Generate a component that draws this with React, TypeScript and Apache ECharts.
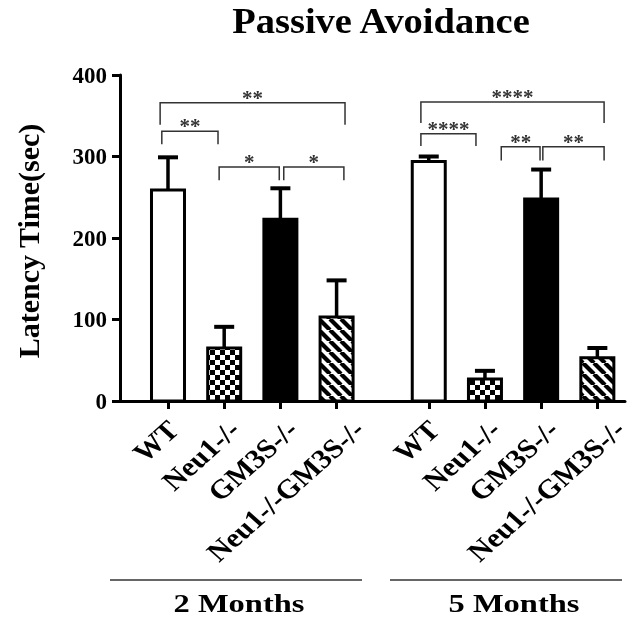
import React, { useEffect, useRef } from "react";
import * as echarts from "echarts";

// ---- data ----
const groups = ["2 Months", "5 Months"];
const genotypes = ["WT", "Neu1-/-", "GM3S-/-", "Neu1-/-GM3S-/-"];
const means2m = [259, 65, 223, 103];
const errs2m = [40, 26, 38, 45];
const means5m = [294, 27, 248, 53];
const errs5m = [6, 10, 36, 12];
const yTicks = [0, 100, 200, 300, 400];

// significance brackets (x in bar-position units, y in seconds)
const bracketFrom = [-0.14, -0.11, 0.91, 2.06, 4.5, 4.5, 5.93, 6.67];
const bracketTo = [3.15, 0.89, 1.98, 3.13, 7.76, 5.48, 6.62, 7.76];
const bracketY = [366, 331, 287, 287, 367, 328, 312, 312];
const bracketLegY = [339, 315, 271, 271, 341, 313, 295, 295];
const bracketStars = ["**", "**", "*", "*", "****", "****", "**", "**"];

const GROUP_OFFSET = 4.64;
const FONT = "'Liberation Serif', 'Times New Roman', serif";
const STRETCH = 1.12;
const LABEL_FONT = `bold 27px ${FONT}`;

function makeChecker(): HTMLCanvasElement {
  const c = document.createElement("canvas");
  const s = 5;
  c.width = s * 2;
  c.height = s * 2;
  const ctx = c.getContext("2d")!;
  ctx.fillStyle = "#fff";
  ctx.fillRect(0, 0, s * 2, s * 2);
  ctx.fillStyle = "#000";
  ctx.fillRect(0, 0, s, s);
  ctx.fillRect(s, s, s, s);
  return c;
}

function makeStripes(): HTMLCanvasElement {
  const c = document.createElement("canvas");
  const s = 11;
  c.width = s;
  c.height = s;
  const ctx = c.getContext("2d")!;
  ctx.fillStyle = "#fff";
  ctx.fillRect(0, 0, s, s);
  ctx.strokeStyle = "#000";
  ctx.lineWidth = 4.2;
  for (const o of [-s, 0, s]) {
    ctx.beginPath();
    ctx.moveTo(o, 0);
    ctx.lineTo(o + s, s);
    ctx.stroke();
  }
  return c;
}

export default function App() {
  const ref = useRef<HTMLDivElement>(null);

  useEffect(() => {
    if (!ref.current) return;
    const chart = echarts.init(ref.current, undefined, { renderer: "svg" });

    const measureCanvas = document.createElement("canvas").getContext("2d")!;
    measureCanvas.font = LABEL_FONT;

    const positions: number[] = [];
    const labels: string[] = [];
    const barData: number[][] = [];
    const allMeans = [means2m, means5m];
    const allErrs = [errs2m, errs5m];
    groups.forEach((_, gi) => {
      genotypes.forEach((name, i) => {
        const p = gi * GROUP_OFFSET + i;
        positions.push(p);
        labels.push(name);
        barData.push([p, allMeans[gi][i], allErrs[gi][i], i]);
      });
    });
    const labelWidths = labels.map((l) => measureCanvas.measureText(l).width);

    const checker = makeChecker();
    const stripes = makeStripes();
    const fills: any[] = [
      "#fff",
      { image: checker, repeat: "repeat" },
      "#000",
      { image: stripes, repeat: "repeat" },
    ];

    const bracketData = bracketFrom.map((x1, i) => [x1, bracketTo[i], bracketY[i], bracketLegY[i]]);

    const option: any = {
      animation: false,
      grid: { left: 120, right: 11, top: 75, bottom: 217, containLabel: false },
      xAxis: {
        type: "value",
        min: -0.854,
        max: 8.132,
        axisLine: { show: true, onZero: true, lineStyle: { color: "#000", width: 3 } },
        axisTick: {
          show: true,
          customValues: positions,
          length: 8,
          lineStyle: { color: "#000", width: 3 },
        },
        axisLabel: { show: false },
        splitLine: { show: false },
      },
      yAxis: {
        type: "value",
        min: 0,
        max: 400,
        interval: 100,
        axisLine: { show: true, onZero: false, lineStyle: { color: "#000", width: 3 } },
        axisTick: { show: true, length: 8, lineStyle: { color: "#000", width: 3 } },
        axisLabel: {
          margin: 13,
          color: "#000",
          fontFamily: FONT,
          fontWeight: "bold",
          fontSize: 23,
          formatter: (v: number) => (yTicks.includes(v) ? String(v) : ""),
        },
        splitLine: { show: false },
      },
      series: [
        {
          type: "custom",
          name: "bars",
          data: barData,
          encode: { x: 0, y: 1 },
          renderItem: (params: any, api: any) => {
            const x = api.value(0);
            const mean = api.value(1);
            const err = api.value(2);
            const kind = api.value(3);
            const base = api.coord([x, 0]);
            const top = api.coord([x, mean]);
            const et = api.coord([x, mean + err]);
            const cx = top[0];
            const w = 33;
            return {
              type: "group",
              children: [
                {
                  type: "line",
                  shape: { x1: cx, y1: top[1], x2: cx, y2: et[1] },
                  style: { stroke: "#000", lineWidth: 3.5 },
                },
                {
                  type: "line",
                  shape: { x1: cx - 10, y1: et[1], x2: cx + 10, y2: et[1] },
                  style: { stroke: "#000", lineWidth: 4 },
                },
                {
                  type: "rect",
                  shape: { x: cx - w / 2, y: top[1], width: w, height: base[1] - top[1] },
                  style: { fill: fills[kind], stroke: "#000", lineWidth: 3 },
                },
              ],
            };
          },
          z: 3,
        },
        {
          type: "custom",
          name: "brackets",
          data: bracketData,
          encode: { x: [0, 1], y: [2, 3] },
          renderItem: (params: any, api: any) => {
            const x1 = api.value(0);
            const x2 = api.value(1);
            const y = api.value(2);
            const yl = api.value(3);
            const a = api.coord([x1, yl]);
            const b = api.coord([x1, y]);
            const c = api.coord([x2, y]);
            const d = api.coord([x2, yl]);
            return {
              type: "group",
              children: [
                {
                  type: "polyline",
                  shape: { points: [a, b, c, d] },
                  style: { stroke: "#333", lineWidth: 1.5, fill: "none" },
                },
                {
                  type: "text",
                  x: (b[0] + c[0]) / 2,
                  y: b[1] - 5,
                  style: {
                    text: bracketStars[params.dataIndex],
                    fill: "#333",
                    font: `bold 21px ${FONT}`,
                    align: "center",
                    verticalAlign: "middle",
                  },
                },
              ],
            };
          },
          z: 4,
        },
        {
          type: "custom",
          name: "categoryLabels",
          data: positions.map((p) => [p, 0]),
          encode: { x: 0, y: 1 },
          silent: true,
          renderItem: (params: any, api: any) => {
            const pt = api.coord([api.value(0), 0]);
            const i = params.dataIndex;
            return {
              type: "group",
              x: pt[0] + 0.12 * labelWidths[i],
              y: pt[1] + 24,
              scaleX: STRETCH,
              children: [
                {
                  type: "text",
                  rotation: Math.PI / 4,
                  style: {
                    text: labels[i],
                    font: LABEL_FONT,
                    fill: "#000",
                    align: "right",
                    verticalAlign: "middle",
                  },
                },
              ],
            };
          },
          z: 5,
        },
      ],
      graphic: [
        {
          type: "text",
          x: 381,
          y: 21,
          scaleX: 1.1,
          style: {
            text: "Passive Avoidance",
            font: `bold 35px ${FONT}`,
            fill: "#000",
            align: "center",
            verticalAlign: "middle",
          },
        },
        {
          type: "text",
          x: 28,
          y: 241,
          rotation: Math.PI / 2,
          style: {
            text: "Latency Time(sec)",
            font: `bold 30px ${FONT}`,
            fill: "#000",
            align: "center",
            verticalAlign: "middle",
          },
        },
        {
          type: "line",
          shape: { x1: 110, y1: 580, x2: 362, y2: 580 },
          style: { stroke: "#333", lineWidth: 1.5 },
        },
        {
          type: "line",
          shape: { x1: 390, y1: 580, x2: 622, y2: 580 },
          style: { stroke: "#333", lineWidth: 1.5 },
        },
        {
          type: "text",
          x: 239,
          y: 603,
          scaleX: 1.25,
          style: {
            text: groups[0],
            font: `bold 26px ${FONT}`,
            fill: "#000",
            align: "center",
            verticalAlign: "middle",
          },
        },
        {
          type: "text",
          x: 514,
          y: 603,
          scaleX: 1.25,
          style: {
            text: groups[1],
            font: `bold 26px ${FONT}`,
            fill: "#000",
            align: "center",
            verticalAlign: "middle",
          },
        },
      ],
    };

    chart.setOption(option);
    return () => chart.dispose();
  }, []);

  return (
    <div
      ref={ref}
      style={{ position: "fixed", left: 0, top: 0, width: 636, height: 618 }}
    />
  );
}
